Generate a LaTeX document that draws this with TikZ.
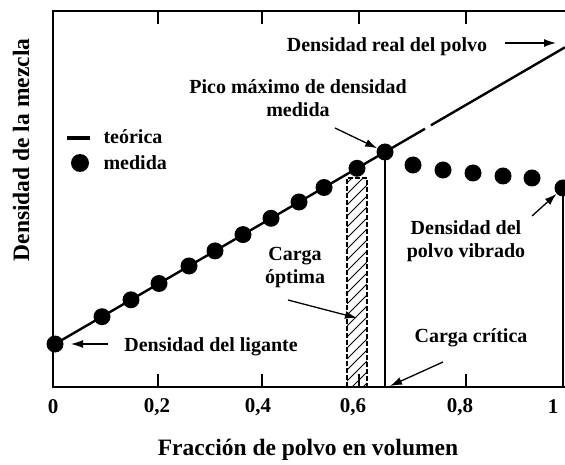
\documentclass[tikz,border=0pt]{standalone}
\usepackage{fontspec}
\setmainfont{Liberation Serif}
\usetikzlibrary{arrows.meta,calc}

\tikzset{
  dato/.style={circle, fill=black, inner sep=0pt, minimum size=17pt},
  etiq/.style={font=\fontsize{20}{23}\selectfont\bfseries, align=center},
  titulo/.style={font=\fontsize{23.5}{27}\selectfont\bfseries},
  flecha/.style={-{Latex[length=12pt,width=8pt]}, line width=1.3pt},
}

\begin{document}
\begin{tikzpicture}[x=1pt,y=1pt]
	\useasboundingbox (0,0) rectangle (565,464);
	%
	\draw [line width=1.5pt] (565,453) -- (53,453) -- (53,77) -- (565,77);
	\draw [line width=1.2pt] (563,77) -- (563,268);
	\foreach \x in {158,262,359,466} {
		\draw [line width=1.2pt] (\x,453) -- (\x,440);
		\draw [line width=1.2pt] (\x,77) -- (\x,90);
	}
	\foreach \n/\x/\lab in {0/53/0, 1/157/{0,2}, 2/258/{0,4}, 3/353/{0,6}, 4/460/{0,8}, 5/553/1}
		\node [etiq, font=\fontsize{21}{24}\selectfont\bfseries] (t\n) at (\x,57) {\lab};
	%
	\node [titulo] (ejex) at (308,14) {Fracción de polvo en volumen};
	\node [titulo, rotate=90] (ejey) at (21,314) {Densidad de la mezcla};
	%
	\begin{scope}
		\clip (347,77) rectangle (367,286);
		\foreach \y in {50,61,...,300}
			\draw [line width=1pt] (347,\y) -- (367,\y+20);
	\end{scope}
	\draw [line width=1.2pt, dash pattern=on 5pt off 2pt] (347,77) -- (347,286) -- (367,286) -- (367,77);
	%
	\foreach \n/\x/\y in {1/55/120, 2/102/147.3, 3/131/164.2, 4/159/180.5, 5/189/198,
		6/215/213.1, 7/243/229.4, 8/271/245.7, 9/299/262, 10/324/276.5, 11/357/295.7,
		12/385/312, 13/413/299, 14/443/294, 15/473/291, 16/503/288, 17/532/286, 18/563/276}
		\node [dato] (m\n) at (\x,\y) {};
	%
	\coordinate (fin) at (565,416.7);
	\draw [line width=2.4pt] (m1.center) -- ($(m1.center)!0.7255!(fin)$);
	\draw [line width=2.4pt] ($(m1.center)!0.737!(fin)$) -- (fin);
	\coordinate (critico) at (385,77);
	\draw [line width=1.3pt] (m12.center) -- (critico);
	%
	\draw [line width=4pt] (67,326) -- (90,326);
	\node [etiq, anchor=west] (teorica) at (100,327) {teórica};
	\node [dato, minimum size=18pt] (ley) at (80,301) {};
	\node [etiq, anchor=west] (medida) at (100,301) {medida};
	%
	\node [etiq] (real) at (387,417) {Densidad real del polvo};
	\node [etiq] (pico) at (298,366) {Pico máximo de densidad\\medida};
	\node [etiq] (vibrado) at (466,223) {Densidad del\\polvo vibrado};
	\node [etiq] (optima) at (295,196) {Carga\\óptima};
	\node [etiq] (critica) at (471,126) {Carga crítica};
	\node [etiq] (ligante) at (211,117) {Densidad del ligante};
	%
	\coordinate (a1) at (505,421);
	\coordinate (b1) at (556,421);
	\coordinate (a2) at (335,336);
	\coordinate (a3) at (532,248);
	\coordinate (a4) at (288,164);
	\coordinate (b4) at (357,146);
	\coordinate (a5) at (443,102);
	\coordinate (b5) at (390,78);
	\coordinate (a6) at (108,120);
	\coordinate (b6) at (71,120);
	\draw [flecha] (a1) -- (b1);
	\draw [flecha] (a2) -- (m12);
	\draw [flecha] (a3) -- (m18);
	\draw [flecha] (a4) -- (b4);
	\draw [flecha] (a5) -- (b5);
	\draw [flecha] (a6) -- (b6);
\end{tikzpicture}
\end{document}
